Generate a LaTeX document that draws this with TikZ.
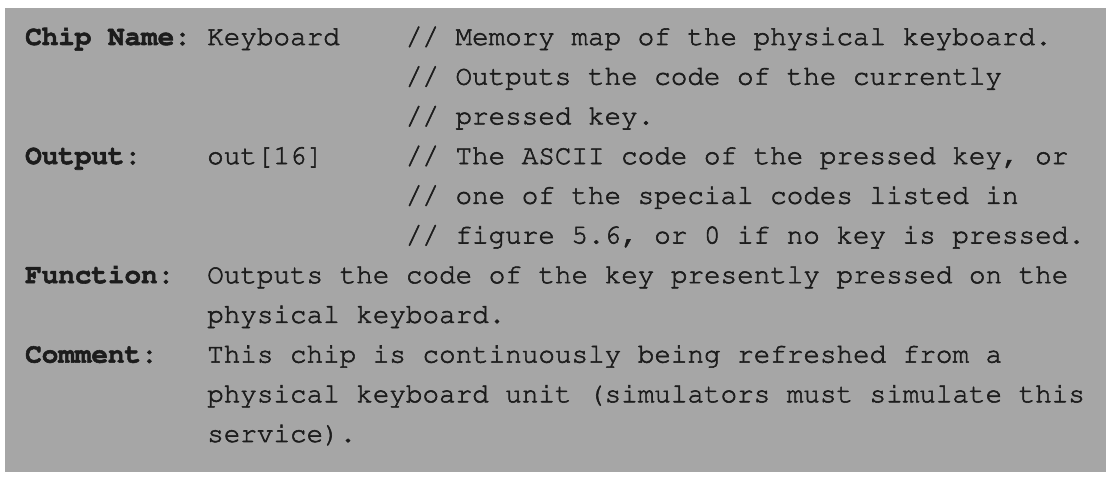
\documentclass[tikz,border=0pt]{standalone}
\usepackage[T1]{fontenc}
\definecolor{boxgray}{HTML}{A6A6A6}
\definecolor{ink}{HTML}{1C1C1C}
\newcommand{\cw}{16.55}
\newcommand{\lh}{39.7}
\newcommand{\heavyon}{\special{pdf:literal direct 2 Tr 0.55 w}}
\newcommand{\heavyoff}{\special{pdf:literal direct 0 Tr}}
\begin{document}
\begin{tikzpicture}[x=1bp,y=1bp,
  txt/.style={anchor=base west, inner sep=0pt, text=ink,
    font=\fontfamily{pcr}\fontsize{27.6bp}{39.7bp}\selectfont,
    execute at begin node=\heavyon, execute at end node=\heavyoff},
  lbl/.style={txt, font=\fontfamily{pcr}\fontsize{27.6bp}{39.7bp}\selectfont\bfseries}]
\useasboundingbox (0,0) rectangle (1114,480);
\fill[boxgray] (5,8) rectangle (1106,472);
% columns
\def\ca{25}
\pgfmathsetmacro{\cb}{25+11*\cw}
\pgfmathsetmacro{\cc}{25+23*\cw}
% line 1
\node[lbl] (l1a) at (\ca,{480-45-0*\lh}) {Chip Name:};
\node[txt] (l1b) at (\cb,{480-45-0*\lh}) {Keyboard};
\node[txt] (l1c) at (\cc,{480-45-0*\lh}) {// Memory map of the physical keyboard.};
\node[txt] (l2c) at (\cc,{480-45-1*\lh}) {// Outputs the code of the currently};
\node[txt] (l3c) at (\cc,{480-45-2*\lh}) {// pressed key.};
% output
\node[lbl] (l4a) at (\ca,{480-45-3*\lh}) {Output:};
\node[txt] (l4b) at (\cb,{480-45-3*\lh}) {out[16]};
\node[txt] (l4c) at (\cc,{480-45-3*\lh}) {// The ASCII code of the pressed key, or};
\node[txt] (l5c) at (\cc,{480-45-4*\lh}) {// one of the special codes listed in};
\node[txt] (l6c) at (\cc,{480-45-5*\lh}) {// figure 5.6, or 0 if no key is pressed.};
% function
\node[lbl] (l7a) at (\ca,{480-45-6*\lh}) {Function:};
\node[txt] (l7b) at (\cb,{480-45-6*\lh}) {Outputs the code of the key presently pressed on the};
\node[txt] (l8b) at (\cb,{480-45-7*\lh}) {physical keyboard.};
% comment
\node[lbl] (l9a) at (\ca,{480-45-8*\lh}) {Comment:};
\node[txt] (l9b) at (\cb,{480-45-8*\lh}) {This chip is continuously being refreshed from a};
\node[txt] (l10b) at (\cb,{480-45-9*\lh}) {physical keyboard unit (simulators must simulate this};
\node[txt] (l11b) at (\cb,{480-45-10*\lh}) {service).};
\end{tikzpicture}
\end{document}
